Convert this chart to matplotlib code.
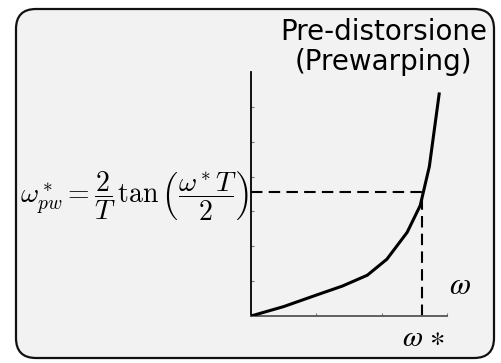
import matplotlib
matplotlib.use("Agg")
import matplotlib.pyplot as plt
from matplotlib.patches import FancyBboxPatch

# Prewarped frequency vs. analog frequency (sampled curve)
omega = [0.0, 0.5, 1.0, 1.4, 1.78, 2.08, 2.39, 2.59, 2.73, 2.88]
omega_pw = [0.0, 0.27, 0.6, 0.86, 1.17, 1.63, 2.4, 3.17, 4.29, 6.37]

# Reference frequency and its prewarped value
omega_star = 2.62
omega_pw_star = 3.57

x_ticks = [1, 2, 3]
y_ticks = [1, 2, 3, 4, 5, 6]

W, H = 501, 363
fig = plt.figure(figsize=(W / 100, H / 100), dpi=100)

# Panel background with rounded frame (pixel coordinates)
bg = fig.add_axes([0, 0, 1, 1], zorder=0)
bg.set_xlim(0, W)
bg.set_ylim(H, 0)
bg.axis("off")
bg.add_patch(FancyBboxPatch((16, 9), 478, 349,
                            boxstyle="round,pad=0,rounding_size=20",
                            fc="#f2f2f2", ec="#111111", lw=1.6))

# Plot area
ax = fig.add_axes([251 / W, 1 - 316 / H, (447 - 251) / W, (316 - 72) / H], zorder=1)
ax.set_facecolor("none")
ax.set_xlim(0, 3)
ax.set_ylim(0, 7)
ax.plot(omega, omega_pw, color="black", lw=2.2, solid_joinstyle="miter", zorder=3)
ax.plot([0, omega_star], [omega_pw_star, omega_pw_star], color="black",
        lw=1.5, dashes=(5.5, 3), zorder=2)
ax.plot([omega_star, omega_star], [0, omega_pw_star], color="black",
        lw=1.5, dashes=(5.5, 3), zorder=2)

for s in ("top", "right"):
    ax.spines[s].set_visible(False)
ax.spines["left"].set_color("black")
ax.spines["left"].set_linewidth(1.3)
ax.spines["bottom"].set_color("#555555")
ax.spines["bottom"].set_linewidth(1.3)
ax.set_xticks(x_ticks)
ax.set_yticks(y_ticks)
ax.tick_params(direction="in", length=2.5, width=0.8, color="#777777",
               labelbottom=False, labelleft=False)

# Title
bg.text(384, 32, "Pre-distorsione", ha="center", va="center",
        fontsize=20, family="DejaVu Sans", color="black")
bg.text(383, 62, "(Prewarping)", ha="center", va="center",
        fontsize=20, family="DejaVu Sans", color="black")

# Formula and axis labels
bg.text(134, 196,
        r"$\omega^*_{pw} = \dfrac{2}{T}\,\tan\left(\dfrac{\omega^* T}{2}\right)$",
        ha="center", va="center", fontsize=20, math_fontfamily="cm")
bg.text(460, 285, r"$\omega$", ha="center", va="center", fontsize=22,
        math_fontfamily="stix")
bg.text(424, 338, r"$\omega\,\ast$", ha="center", va="center", fontsize=21,
        math_fontfamily="stix")

fig.savefig("out.png", dpi=100)
